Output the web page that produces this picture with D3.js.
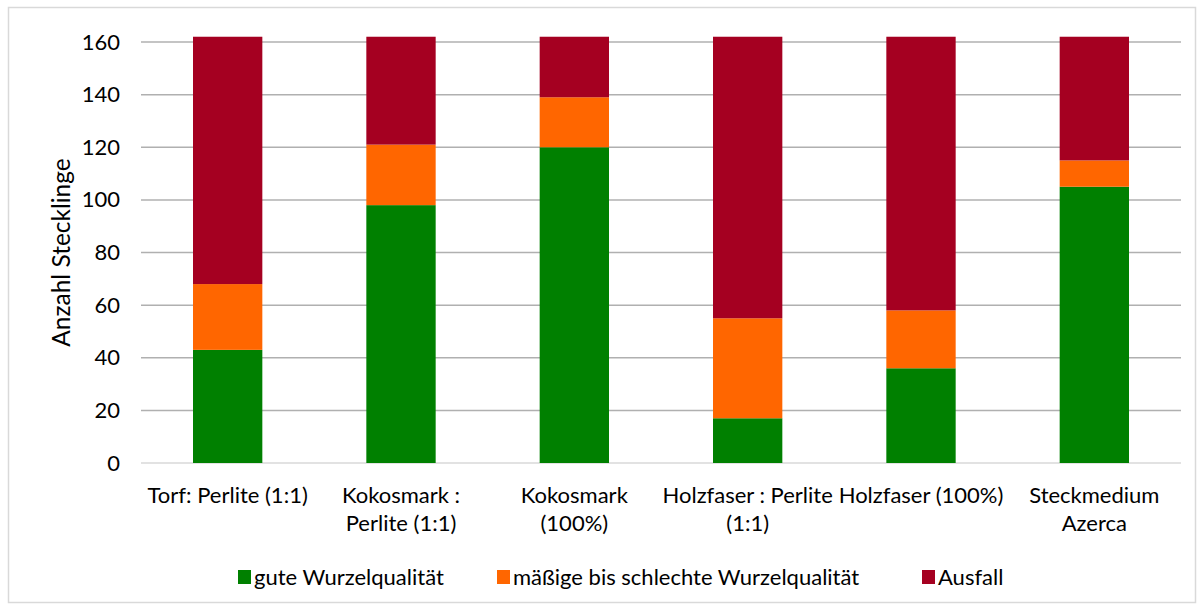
<!DOCTYPE html>
<html>
<head>
<meta charset="utf-8">
<script src="https://cdn.jsdelivr.net/npm/d3@7"></script>
<style>
  body { margin: 0; background: #fff; }
  text { font-family: Lato, "Open Sans", sans-serif; fill: #000; }
</style>
</head>
<body>
<div id="chart"></div>
<script>
// categories, each label split into its display lines
const categories = ["Torf: Perlite (1:1)", "Kokosmark : Perlite (1:1)", "Kokosmark (100%)",
    "Holzfaser : Perlite (1:1)", "Holzfaser (100%)", "Steckmedium Azerca"];
const labelLines = [
    ["Torf: Perlite (1:1)"],
    ["Kokosmark :", "Perlite (1:1)"],
    ["Kokosmark", "(100%)"],
    ["Holzfaser : Perlite", "(1:1)"],
    ["Holzfaser (100%)"],
    ["Steckmedium", "Azerca"]
];

const seriesNames = ["gute Wurzelqualität", "mäßige bis schlechte Wurzelqualität", "Ausfall"];
const gut = [43, 98, 120, 17, 36, 105];
const maessig = [25, 23, 19, 38, 22, 10];
const ausfall = [94, 41, 23, 107, 104, 47];
const yTicks = [0, 20, 40, 60, 80, 100, 120, 140, 160];

const colors = ["#008000", "#FF6600", "#A50021"];

const W = 1204, H = 610;
const margin = { top: 42, left: 141, right: 23, bottom: 147 };
const innerW = W - margin.left - margin.right;
const innerH = H - margin.top - margin.bottom;
const fs = "22px";

const rows = categories.map(function(c, i) {
    return { cat: c, gut: gut[i], maessig: maessig[i], ausfall: ausfall[i] };
});
const stack = d3.stack().keys(["gut", "maessig", "ausfall"])(rows);

const svg = d3.select("#chart").append("svg")
    .attr("width", W).attr("height", H);

// chart border
svg.append("rect")
    .attr("x", 8.5).attr("y", 7.5)
    .attr("width", W - 17).attr("height", H - 15)
    .attr("fill", "none").attr("stroke", "#d9d9d9").attr("stroke-width", 1.5);

const g = svg.append("g")
    .attr("transform", "translate(" + margin.left + "," + margin.top + ")");

const x = d3.scaleBand().domain(categories).range([0, innerW]).paddingInner(0.6).paddingOuter(0.3);
const y = d3.scaleLinear().domain([0, 160]).range([innerH, 0]);

// gridlines
g.append("g")
    .selectAll("line")
    .data(yTicks)
    .enter()
    .append("line")
    .attr("x1", 0).attr("x2", innerW)
    .attr("y1", function(d) { return y(d); })
    .attr("y2", function(d) { return y(d); })
    .attr("stroke", function(d) { return d === 0 ? "#d9d9d9" : "#b0b0b0"; })
    .attr("stroke-width", 1.5);

// y axis labels
const yAxis = d3.axisLeft(y).tickValues(yTicks).tickSize(0).tickPadding(21);
const ya = g.append("g").call(yAxis);
ya.select(".domain").remove();
ya.selectAll("text").style("font-size", fs);

// bars
g.selectAll("g.series")
    .data(stack)
    .enter()
    .append("g")
    .attr("class", "series")
    .attr("fill", function(d, i) { return colors[i]; })
    .selectAll("rect")
    .data(function(d) { return d; })
    .enter()
    .append("rect")
    .attr("x", function(d) { return x(d.data.cat); })
    .attr("width", x.bandwidth())
    .attr("y", function(d) { return y(d[1]); })
    .attr("height", function(d) { return y(d[0]) - y(d[1]); });

// x labels
const xl = g.append("g")
    .selectAll("text")
    .data(categories)
    .enter()
    .append("text")
    .attr("text-anchor", "middle")
    .attr("x", function(d) { return x(d) + x.bandwidth() / 2; })
    .attr("y", innerH + 40)
    .style("font-size", fs);
xl.each(function(d, i) {
    const t = d3.select(this);
    labelLines[i].forEach(function(line, j) {
        t.append("tspan")
            .attr("x", x(d) + x.bandwidth() / 2)
            .attr("dy", j === 0 ? 0 : 28)
            .text(line);
    });
});

// y axis title
svg.append("text")
    .attr("transform", "translate(70," + (margin.top + innerH / 2) + ") rotate(-90)")
    .attr("text-anchor", "middle")
    .style("font-size", "24.5px")
    .text("Anzahl Stecklinge");

// legend
const legend = svg.append("g").attr("transform", "translate(0,577)");
const legX = [238, 497, 922];
const li = legend.selectAll("g")
    .data(seriesNames)
    .enter()
    .append("g")
    .attr("transform", function(d, i) { return "translate(" + legX[i] + ",0)"; });
li.append("rect")
    .attr("x", 0).attr("y", -7)
    .attr("width", 13).attr("height", 14)
    .attr("fill", function(d, i) { return colors[i]; });
li.append("text")
    .attr("x", 16).attr("y", 8)
    .style("font-size", fs)
    .text(function(d) { return d; });
</script>
</body>
</html>
